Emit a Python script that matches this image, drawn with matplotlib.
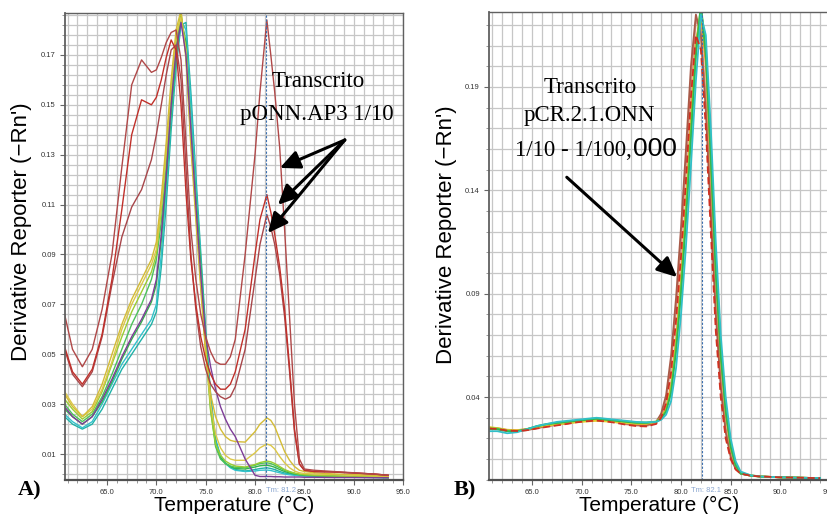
import matplotlib
matplotlib.use("Agg")
import matplotlib.pyplot as plt
from matplotlib.ticker import FixedLocator

# ---------------- Panel A data (temperature grid, derivative values) -------------
TA = [60.7, 61.5, 62.5, 63.5, 64.5, 65.5, 66.5, 67.5, 68.5, 69.5,
      70.0, 70.5, 71.0, 71.5, 72.0, 72.5, 73.0, 73.5, 74.0, 74.5,
      75.0, 75.5, 76.0, 76.5, 77.0, 77.5, 78.0, 79.0, 80.0, 80.5,
      81.2, 81.6, 82.0, 82.5, 83.0, 83.5, 84.0, 84.5, 85.0, 86.0,
      88.0, 90.0, 92.0, 93.5]

A_R1 = [0.066, 0.052, 0.045, 0.052, 0.068, 0.090, 0.125, 0.158, 0.168, 0.163,
        0.164, 0.169, 0.175, 0.179, 0.180, 0.168, 0.135, 0.100, 0.080, 0.066,
        0.057, 0.051, 0.047, 0.046, 0.046, 0.049, 0.056, 0.090, 0.130, 0.155,
        0.184, 0.170, 0.155, 0.133, 0.100, 0.065, 0.030, 0.008, 0.004, 0.0035,
        0.003, 0.0025, 0.002, 0.0015]
A_R2 = [0.053, 0.043, 0.038, 0.044, 0.058, 0.080, 0.108, 0.138, 0.152, 0.150,
        0.153, 0.160, 0.169, 0.176, 0.172, 0.150, 0.115, 0.088, 0.070, 0.057,
        0.048, 0.042, 0.038, 0.036, 0.036, 0.038, 0.043, 0.060, 0.090, 0.104,
        0.114, 0.107, 0.098, 0.085, 0.068, 0.045, 0.020, 0.006, 0.0035, 0.003,
        0.0028, 0.0024, 0.002, 0.0015]
A_R3 = [0.052, 0.042, 0.037, 0.043, 0.057, 0.078, 0.097, 0.109, 0.116, 0.128,
        0.138, 0.150, 0.162, 0.172, 0.174, 0.160, 0.125, 0.090, 0.068, 0.053,
        0.044, 0.038, 0.035, 0.033, 0.032, 0.033, 0.037, 0.052, 0.080, 0.094,
        0.106, 0.101, 0.094, 0.082, 0.065, 0.043, 0.019, 0.006, 0.0035, 0.003,
        0.0028, 0.0024, 0.002, 0.0015]
A_G1 = [0.030, 0.026, 0.023, 0.026, 0.033, 0.042, 0.052, 0.062, 0.070, 0.080,
        0.088, 0.103, 0.125, 0.150, 0.172, 0.186, 0.172, 0.138, 0.110, 0.083,
        0.055, 0.028, 0.013, 0.008, 0.0062, 0.0052, 0.0047, 0.0045, 0.0055, 0.0062,
        0.0065, 0.0062, 0.0055, 0.0045, 0.0035, 0.0028, 0.0022, 0.0018, 0.0016, 0.0014,
        0.0012, 0.0010, 0.0008, 0.0006]
A_G2 = [0.028, 0.025, 0.022, 0.025, 0.031, 0.039, 0.048, 0.056, 0.063, 0.071,
        0.078, 0.096, 0.120, 0.147, 0.170, 0.185, 0.175, 0.142, 0.113, 0.086,
        0.057, 0.030, 0.014, 0.0085, 0.0062, 0.0050, 0.0042, 0.0040, 0.0048, 0.0053,
        0.0055, 0.0052, 0.0047, 0.0038, 0.0030, 0.0024, 0.0020, 0.0017, 0.0015, 0.0013,
        0.0011, 0.0009, 0.0007, 0.0006]
A_G3 = [0.032, 0.028, 0.024, 0.027, 0.035, 0.046, 0.057, 0.067, 0.075, 0.083,
        0.090, 0.108, 0.130, 0.155, 0.176, 0.187, 0.170, 0.136, 0.107, 0.079,
        0.051, 0.027, 0.014, 0.0095, 0.0072, 0.0060, 0.0052, 0.0048, 0.0058, 0.0066,
        0.0072, 0.0069, 0.0062, 0.0050, 0.0038, 0.0030, 0.0024, 0.0020, 0.0018, 0.0015,
        0.0012, 0.0010, 0.0008, 0.0006]
A_C1 = [0.026, 0.023, 0.0205, 0.023, 0.030, 0.038, 0.046, 0.052, 0.058, 0.064,
        0.070, 0.090, 0.116, 0.145, 0.168, 0.184, 0.180, 0.150, 0.118, 0.088,
        0.058, 0.032, 0.015, 0.009, 0.0062, 0.0045, 0.0035, 0.0030, 0.0032, 0.0035,
        0.0036, 0.0034, 0.0030, 0.0025, 0.0020, 0.0017, 0.0015, 0.0013, 0.0012, 0.0010,
        0.0009, 0.0008, 0.0006, 0.0005]
A_C2 = [0.025, 0.022, 0.020, 0.022, 0.028, 0.036, 0.044, 0.050, 0.056, 0.062,
        0.067, 0.085, 0.110, 0.140, 0.165, 0.182, 0.183, 0.155, 0.122, 0.091,
        0.060, 0.034, 0.016, 0.0095, 0.0065, 0.0048, 0.0038, 0.0032, 0.0038, 0.0042,
        0.0045, 0.0042, 0.0038, 0.0030, 0.0024, 0.0020, 0.0017, 0.0015, 0.0013, 0.0011,
        0.0010, 0.0008, 0.0007, 0.0005]
A_Y1 = [0.034, 0.029, 0.025, 0.029, 0.038, 0.050, 0.062, 0.072, 0.080, 0.088,
        0.095, 0.113, 0.135, 0.160, 0.180, 0.188, 0.168, 0.133, 0.104, 0.076,
        0.050, 0.034, 0.025, 0.020, 0.017, 0.0155, 0.015, 0.0148, 0.019, 0.022,
        0.0245, 0.0235, 0.021, 0.016, 0.011, 0.0075, 0.0050, 0.0035, 0.0030, 0.0025,
        0.0020, 0.0018, 0.0015, 0.0012]
A_Y2 = [0.035, 0.030, 0.025, 0.028, 0.036, 0.047, 0.060, 0.070, 0.078, 0.086,
        0.092, 0.110, 0.132, 0.157, 0.178, 0.185, 0.172, 0.138, 0.108, 0.079,
        0.052, 0.030, 0.018, 0.0125, 0.0095, 0.0080, 0.0075, 0.0075, 0.0105, 0.0125,
        0.0140, 0.0135, 0.0120, 0.0090, 0.0065, 0.0045, 0.0032, 0.0025, 0.0022, 0.0020,
        0.0018, 0.0015, 0.0012, 0.0010]
A_P1 = [0.029, 0.025, 0.022, 0.025, 0.032, 0.040, 0.049, 0.057, 0.064, 0.072,
        0.080, 0.098, 0.122, 0.150, 0.172, 0.183, 0.170, 0.140, 0.110, 0.082,
        0.057, 0.045, 0.036, 0.029, 0.024, 0.020, 0.017, 0.008, 0.0015, 0.0010,
        0.0010, 0.0010, 0.0009, 0.0009, 0.0008, 0.0008, 0.0008, 0.0008, 0.0007, 0.0007,
        0.0006, 0.0006, 0.0005, 0.0005]

A_SERIES = [A_C2, A_C1, A_G2, A_G1, A_G3, A_Y2, A_Y1, A_P1, A_R3, A_R2, A_R1]
A_COLORS = ["#20b2a8", "#33c2cc", "#33b34a", "#4cc25a", "#9acd32", "#dcc848",
            "#d4bc36", "#7d3c98", "#a8464a", "#c0302a", "#b04848"]

# ---------------- Panel B data -------------
TB = [60.7, 61.5, 62.5, 63.5, 64.5, 65.5, 66.5, 67.5, 68.5, 69.5,
      70.5, 71.5, 72.5, 73.5, 74.5, 75.5, 76.5, 77.5, 78.0, 78.5,
      79.0, 79.5, 80.0, 80.5, 81.0, 81.5, 82.0, 82.5, 83.0, 83.5,
      84.0, 84.5, 85.0, 85.5, 86.0, 87.0, 88.0, 90.0, 92.0, 94.0]

B_S = [0.0250, 0.0248, 0.0240, 0.0238, 0.0242, 0.0250, 0.0258, 0.0265, 0.0272, 0.0280,
       0.0285, 0.0288, 0.0285, 0.0278, 0.0268, 0.0262, 0.0260, 0.0275, 0.0310, 0.0390,
       0.0560, 0.0820, 0.1150, 0.1520, 0.1920, 0.2220, 0.2180, 0.1850, 0.1350, 0.0850,
       0.0480, 0.0250, 0.0120, 0.0055, 0.0030, 0.0020, 0.0016, 0.0012, 0.0010, 0.0008]
B_BR = [0.0246, 0.0244, 0.0236, 0.0234, 0.0240, 0.0250, 0.0260, 0.0268, 0.0276, 0.0284,
        0.0290, 0.0294, 0.0290, 0.0282, 0.0272, 0.0266, 0.0264, 0.0280, 0.0320, 0.0410,
        0.0600, 0.0880, 0.1220, 0.1600, 0.2000, 0.2250, 0.2150, 0.1780, 0.1280, 0.0800,
        0.0450, 0.0230, 0.0110, 0.0052, 0.0030, 0.0020, 0.0016, 0.0012, 0.0010, 0.0008]
B_O = [0.0252, 0.0250, 0.0242, 0.0240, 0.0246, 0.0256, 0.0264, 0.0270, 0.0276, 0.0282,
       0.0287, 0.0290, 0.0286, 0.0280, 0.0274, 0.0270, 0.0270, 0.0280, 0.0300, 0.0350,
       0.0460, 0.0680, 0.0980, 0.1350, 0.1760, 0.2120, 0.2260, 0.2000, 0.1500, 0.0980,
       0.0580, 0.0310, 0.0150, 0.0068, 0.0032, 0.0021, 0.0016, 0.0012, 0.0010, 0.0008]
B_Y = [0.0255, 0.0250, 0.0240, 0.0238, 0.0245, 0.0255, 0.0262, 0.0268, 0.0272, 0.0278,
       0.0282, 0.0285, 0.0282, 0.0278, 0.0275, 0.0272, 0.0272, 0.0280, 0.0298, 0.0340,
       0.0440, 0.0650, 0.0940, 0.1300, 0.1700, 0.2080, 0.2280, 0.2100, 0.1620, 0.1080,
       0.0650, 0.0360, 0.0180, 0.0080, 0.0035, 0.0022, 0.0016, 0.0012, 0.0010, 0.0008]
B_G1 = [0.0245, 0.0245, 0.0235, 0.0235, 0.0245, 0.0260, 0.0270, 0.0275, 0.0280, 0.0285,
        0.0290, 0.0295, 0.0290, 0.0285, 0.0280, 0.0275, 0.0275, 0.0280, 0.0295, 0.0330,
        0.0420, 0.0620, 0.0900, 0.1250, 0.1650, 0.2050, 0.2300, 0.2050, 0.1550, 0.1000,
        0.0600, 0.0330, 0.0160, 0.0070, 0.0030, 0.0020, 0.0015, 0.0012, 0.0010, 0.0008]
B_G2 = [0.0250, 0.0248, 0.0238, 0.0236, 0.0244, 0.0258, 0.0268, 0.0274, 0.0280, 0.0286,
        0.0292, 0.0298, 0.0293, 0.0287, 0.0282, 0.0278, 0.0277, 0.0282, 0.0298, 0.0335,
        0.0430, 0.0640, 0.0930, 0.1290, 0.1690, 0.2080, 0.2290, 0.2080, 0.1600, 0.1050,
        0.0630, 0.0350, 0.0170, 0.0075, 0.0032, 0.0021, 0.0016, 0.0012, 0.0010, 0.0008]
B_C1 = [0.0235, 0.0235, 0.0225, 0.0230, 0.0245, 0.0260, 0.0270, 0.0280, 0.0285, 0.0290,
        0.0295, 0.0300, 0.0295, 0.0290, 0.0285, 0.0280, 0.0278, 0.0280, 0.0290, 0.0315,
        0.0380, 0.0540, 0.0800, 0.1130, 0.1520, 0.1930, 0.2250, 0.2150, 0.1700, 0.1150,
        0.0700, 0.0400, 0.0200, 0.0090, 0.0040, 0.0022, 0.0016, 0.0012, 0.0010, 0.0008]
B_RD = [0.0248, 0.0246, 0.0238, 0.0236, 0.0240, 0.0248, 0.0256, 0.0263, 0.0270, 0.0278,
        0.0283, 0.0286, 0.0282, 0.0275, 0.0266, 0.0260, 0.0258, 0.0270, 0.0300, 0.0370,
        0.0520, 0.0770, 0.1080, 0.1450, 0.1850, 0.2150, 0.2080, 0.1700, 0.1200, 0.0720,
        0.0400, 0.0200, 0.0100, 0.0050, 0.0030, 0.0020, 0.0016, 0.0012, 0.0010, 0.0008]

B_SERIES = [B_S, B_BR, B_O, B_Y, B_G2, B_G1, B_C1, B_RD]
B_COLORS = ["#d89080", "#a85a48", "#e8962a", "#e0d030", "#7ccd3c", "#30b850", "#30c0c8", "#d03020"]
B_STYLES = ["-", "-", "-", "-", "-", "-", "-", (0, (4, 2))]

A_XTICKS = [65, 70, 75, 80, 85, 90, 95]
A_YTICKS = [0.01, 0.03, 0.05, 0.07, 0.09, 0.11, 0.13, 0.15, 0.17]
B_XTICKS = [65, 70, 75, 80, 85, 90, 95]
B_YTICKS = [0.04, 0.09, 0.14, 0.19]
A_TM = 81.15
B_TM = 82.1

SANS = ["Liberation Sans", "DejaVu Sans"]
SERIF = ["Liberation Serif", "DejaVu Serif"]

W, H = 827, 514
fig = plt.figure(figsize=(W / 100, H / 100), dpi=100)

def px(x, y):
    return (x / W, 1 - y / H)

def style_axes(ax, xticks, yticks, ygrid):
    ax.set_xticks(xticks)
    ax.set_xticklabels([f"{t:.1f}" for t in xticks])
    ax.set_yticks(yticks)
    ax.set_yticklabels([f"{t:.2f}" for t in yticks])
    ax.xaxis.set_minor_locator(FixedLocator(list(range(61, 96))))
    ax.yaxis.set_minor_locator(FixedLocator(ygrid))
    ax.grid(which="both", color="#c6c6c6", lw=0.9)
    ax.set_axisbelow(True)
    ax.tick_params(which="major", length=3.5, width=0.8, color="#666666",
                   labelsize=5.5, labelcolor="#333333", pad=3)
    ax.tick_params(which="minor", length=2.5, width=0.6, color="#888888")
    for lab in ax.get_xticklabels() + ax.get_yticklabels():
        lab.set_family(SANS)
    for s in ax.spines.values():
        s.set_color("#606060")
        s.set_linewidth(1.0)
    ax.spines["bottom"].set_linewidth(1.6)
    ax.spines["bottom"].set_color("#505050")
    ax.spines["left"].set_linewidth(1.3)

# ---------------- Panel A -------------
axA = fig.add_axes([65 / W, 1 - 480 / H, (403 - 65) / W, (480 - 13) / H])
axA.set_xlim(60.74, 95.0)
axA.set_ylim(-0.0004, 0.1868)
style_axes(axA, A_XTICKS, A_YTICKS, [0.002 + 0.004 * k for k in range(47)])
for ys, c in zip(A_SERIES, A_COLORS):
    axA.plot(TA, ys, color=c, lw=1.0)
axA.axvline(A_TM, color="#3a6fb0", lw=0.8, ls=(0, (2, 1.5)))

axA.text(86.37, 0.1592, "Transcrito", family=SERIF, fontsize=16.5, ha="center", va="center")
axA.text(86.27, 0.1460, "pONN.AP3 1/10", family=SERIF, fontsize=16.5, ha="center", va="center")
arrow_kw = dict(arrowstyle="-|>,head_length=0.6,head_width=0.28", lw=2.2,
                color="black", shrinkA=0, shrinkB=0, mutation_scale=20)
for tx, ty in [(82.52, 0.1247), (82.32, 0.1099), (81.31, 0.0986)]:
    axA.annotate("", xy=(tx, ty), xytext=(89.1, 0.1359), arrowprops=arrow_kw)

# ---------------- Panel B -------------
axB = fig.add_axes([489 / W, 1 - 480 / H, (830 - 489) / W, (480 - 12) / H])
axB.set_xlim(60.67, 95.0)
axB.set_ylim(-0.0001, 0.2262)
style_axes(axB, B_XTICKS, B_YTICKS, [0.01 * k for k in range(23)])
for ys, c, ls in zip(B_SERIES, B_COLORS, B_STYLES):
    axB.plot(TB, ys, color=c, lw=1.3, ls=ls)
axB.axvline(B_TM, color="#3a6fb0", lw=0.8, ls=(0, (2, 1.5)))

axB.text(70.84, 0.1898, "Transcrito", family=SERIF, fontsize=16.5, ha="center", va="center")
axB.text(70.74, 0.1762, "pCR.2.1.ONN", family=SERIF, fontsize=16.5, ha="center", va="center")
axB.text(75.07, 0.1564, "1/10 - 1/100,", family=SERIF, fontsize=16.5, ha="right", va="baseline")
axB.text(75.12, 0.1564, "000", family=SANS, fontsize=19, ha="left", va="baseline")
axB.annotate("", xy=(79.6, 0.098), xytext=(68.5, 0.1463), arrowprops=arrow_kw)

# ---------------- Labels -------------
fig.text(*px(22, 232), "Derivative Reporter (\u2212Rn')", family=SANS, fontsize=16,
         rotation=90, ha="center", va="center")
fig.text(*px(447, 235), "Derivative Reporter (\u2212Rn')", family=SANS, fontsize=16,
         rotation=90, ha="center", va="center")
fig.text(*px(234, 511), "Temperature (\u00b0C)", family=SANS, fontsize=15,
         ha="center", va="baseline")
fig.text(*px(659, 511), "Temperature (\u00b0C)", family=SANS, fontsize=15,
         ha="center", va="baseline")
fig.text(*px(281, 491), "Tm: 81.2", family=SANS, fontsize=5.5, color="#8aa6d0",
         ha="center", va="center")
fig.text(*px(706, 491), "Tm: 82.1", family=SANS, fontsize=5.5, color="#8aa6d0",
         ha="center", va="center")
fig.text(*px(30, 490), "A)", family=SERIF, fontsize=16, fontweight="bold",
         ha="center", va="center")
fig.text(*px(465, 490), "B)", family=SERIF, fontsize=16, fontweight="bold",
         ha="center", va="center")

fig.savefig("out.png", dpi=100)
